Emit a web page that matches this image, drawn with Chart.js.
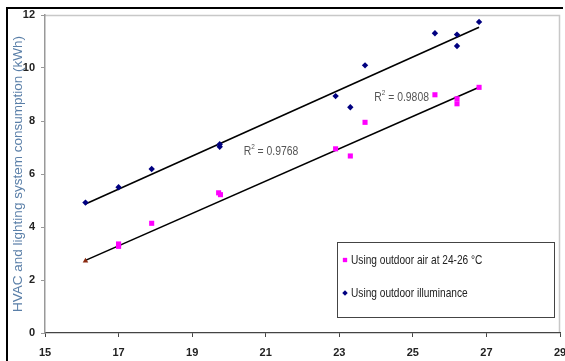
<!DOCTYPE html>
<html>
<head>
<meta charset="utf-8">
<script src="https://cdn.jsdelivr.net/npm/chart.js@4"></script>
<style>
  html, body { margin: 0; padding: 0; background: #fff; }
  #wrap { position: relative; width: 565px; height: 361px; overflow: hidden; }
  #frame { position: absolute; left: 6px; top: 7px; width: 557px; height: 420px; border-top: 2px solid #000; border-left: 2px solid #000; box-sizing: border-box; pointer-events: none; }
  canvas { position: absolute; left: 0; top: 0; }
</style>
</head>
<body>
<div id="wrap">
  <canvas id="c" width="565" height="361"></canvas>
  <div id="frame"></div>
</div>
<script>
// data
const illumX = [16.1, 17.0, 17.9, 19.75, 19.75, 22.9, 23.3, 23.7, 25.6, 26.2, 26.2, 26.8];
const illumY = [4.92, 5.5, 6.19, 7.12, 7.03, 8.94, 8.52, 10.1, 11.31, 11.26, 10.83, 11.74];
const airX = [17.0, 17.0, 17.9, 19.72, 19.77, 22.9, 23.3, 23.7, 25.6, 26.2, 26.2, 26.8];
const airY = [3.36, 3.27, 4.14, 5.29, 5.22, 6.95, 6.68, 7.95, 8.99, 8.84, 8.65, 9.27];
const firstX = [16.1];
const firstY = [2.72];
// fitted lines as drawn
const trendX = [16.1, 26.8];
const trendUpY = [4.87, 11.54];
const trendLowY = [2.74, 9.27];
const r2Labels = ["0.9768", "0.9808"];
const r2Pos = [[20.4, 6.85], [23.95, 8.88]];
const legendLabels = ["Using outdoor air at 24-26 \u00B0C", "Using outdoor illuminance"];

const FONT = "'Liberation Sans', Arial, sans-serif";

function pts(xs, ys) { return xs.map((x, i) => ({ x: x, y: ys[i] })); }

// narrow text: squeeze horizontally like Arial Narrow
function narrowText(ctx, text, x, y, sx) {
  ctx.save();
  ctx.translate(x, y);
  ctx.scale(sx, 1);
  ctx.fillText(text, 0, 0);
  const w = ctx.measureText(text).width * sx;
  ctx.restore();
  return w;
}

const extras = {
  id: 'extras',
  beforeDraw(chart) {
    const { ctx, chartArea: a } = chart;
    ctx.save();
    ctx.strokeStyle = '#c8c8c8';
    ctx.lineWidth = 1.5;
    ctx.beginPath();
    ctx.moveTo(a.left, a.top + 0.5);
    ctx.lineTo(a.right - 0.5, a.top + 0.5);
    ctx.lineTo(a.right - 0.5, a.bottom);
    ctx.stroke();
    ctx.restore();
  },
  afterDraw(chart) {
    const { ctx, scales } = chart;
    ctx.save();
    // R² labels
    ctx.fillStyle = '#555';
    ctx.textBaseline = 'middle';
    r2Labels.forEach((t, i) => {
      let x = scales.x.getPixelForValue(r2Pos[i][0]);
      const y = scales.y.getPixelForValue(r2Pos[i][1]);
      ctx.font = '13px ' + FONT;
      x += narrowText(ctx, 'R', x, y, 0.8);
      ctx.font = '8px ' + FONT;
      x += narrowText(ctx, '2', x, y - 5, 0.8);
      ctx.font = '13px ' + FONT;
      narrowText(ctx, ' = ' + t, x, y, 0.8);
    });
    // legend box
    const bx = 337, by = 242, bw = 217, bh = 75;
    ctx.fillStyle = '#fff';
    ctx.fillRect(bx, by, bw, bh);
    ctx.strokeStyle = '#444';
    ctx.lineWidth = 1;
    ctx.strokeRect(bx + 0.5, by + 0.5, bw, bh);
    const ds = [chart.data.datasets[1], chart.data.datasets[0]];
    ds.forEach((d, i) => {
      const y = by + 18 + i * 33;
      ctx.fillStyle = d.backgroundColor;
      Chart.helpers.drawPoint(ctx, { pointStyle: d.pointStyle, radius: d.pointRadius * 0.85, borderWidth: 0 }, 345, y);
      ctx.fillStyle = '#222';
      ctx.font = '13px ' + FONT;
      narrowText(ctx, legendLabels[i], 351, y, 0.78);
    });
    ctx.restore();
  }
};

new Chart(document.getElementById('c'), {
  type: 'scatter',
  data: {
    datasets: [
      { label: legendLabels[1], data: pts(illumX, illumY), pointStyle: 'rectRot', pointRadius: 3.2,
        backgroundColor: '#000080', borderColor: '#000080', borderWidth: 0 },
      { label: legendLabels[0], data: pts(airX, airY), pointStyle: 'rect', pointRadius: 3.6,
        backgroundColor: '#ff00ff', borderColor: '#ff00ff', borderWidth: 0 },
      { label: 'first', data: pts(firstX, firstY), pointStyle: 'triangle', pointRadius: 3.2,
        backgroundColor: '#8b2a10', borderColor: '#8b2a10', borderWidth: 0 },
      { label: 'trend1', type: 'line', data: pts(trendX, trendUpY), borderColor: '#000', borderWidth: 1.6,
        pointRadius: 0, fill: false },
      { label: 'trend2', type: 'line', data: pts(trendX, trendLowY), borderColor: '#000', borderWidth: 1.6,
        pointRadius: 0, fill: false }
    ]
  },
  options: {
    responsive: false,
    animation: false,
    layout: { padding: { left: 0, right: 5, top: 15, bottom: 0 } },
    plugins: { legend: { display: false }, tooltip: { enabled: false } },
    scales: {
      x: {
        type: 'linear', min: 15, max: 29,
        afterFit(s) { s.height = 28; s.paddingLeft = 0; s.paddingRight = 0; },
        ticks: { stepSize: 2, color: '#222', padding: 9, font: { family: FONT, size: 11, weight: 'bold' } },
        grid: { drawOnChartArea: false, drawTicks: true, tickLength: 4, color: '#444' },
        border: { display: true, color: '#444', width: 1.2 }
      },
      y: {
        min: 0, max: 12,
        afterFit(s) { s.width = 45; s.paddingTop = 0; s.paddingBottom = 0; },
        ticks: { stepSize: 2, color: '#222', padding: 6, font: { family: FONT, size: 11, weight: 'bold' } },
        grid: { drawOnChartArea: false, drawTicks: true, tickLength: 4, color: '#999' },
        border: { display: true, color: '#999', width: 1.5 },
        title: { display: true, text: 'HVAC and lighting system consumption (kWh)', color: '#5a7fa8',
          padding: { top: 10, bottom: 0 }, font: { family: FONT, size: 13.5 } }
      }
    }
  },
  plugins: [extras]
});
</script>
</body>
</html>
